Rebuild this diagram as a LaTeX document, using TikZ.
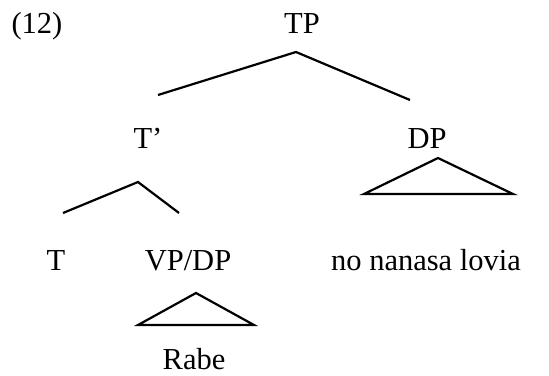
\documentclass[tikz,border=0pt]{standalone}
\usepackage{fontspec}
\setmainfont{Liberation Serif}
\usetikzlibrary{positioning}
\tikzstyle{word} = [anchor=base, inner sep=0pt, font=\fontsize{30.5}{36}\selectfont]
\tikzstyle{branch} = [draw, line width=2.2pt]
\tikzstyle{roof} = [draw, line width=2.2pt, line join=miter]

\begin{document}
\begin{tikzpicture}[x=1pt, y=-1pt]
	\useasboundingbox (0,0) rectangle (549,375);
	\node [word] (num) at (37, 33) {(12)};
	\node [word] (tp) at (302, 33) {TP};
	\node [word] (tbar) at (148, 148) {T’};
	\node [word] (dp) at (427, 148) {DP};
	\node [word] (t) at (56, 270) {T};
	\node [word] (vpdp) at (188, 270) {VP/DP};
	\node [word] (lovia) at (426, 270) {no nanasa lovia};
	\node [word] (rabe) at (194, 369) {Rabe};
	
	% branch ends
	\coordinate (tptop) at (296, 52);
	\coordinate (tpl) at (158, 95);
	\coordinate (tpr) at (410, 100);
	\coordinate (tbartop) at (138, 182);
	\coordinate (tbarl) at (63, 213);
	\coordinate (tbarr) at (179, 213);
	\coordinate (dptop) at (438, 158);
	\coordinate (dpl) at (364, 194);
	\coordinate (dpr) at (513, 194);
	\coordinate (vptop) at (196, 293);
	\coordinate (vpl) at (138, 325);
	\coordinate (vpr) at (254, 325);
	
	\path [branch] (tpl) -- (tptop) -- (tpr);
	\path [branch] (tbarl) -- (tbartop) -- (tbarr);
	\path [roof] (dpl) -- (dptop) -- (dpr) -- cycle;
	\path [roof] (vpl) -- (vptop) -- (vpr) -- cycle;
\end{tikzpicture}
\end{document}
